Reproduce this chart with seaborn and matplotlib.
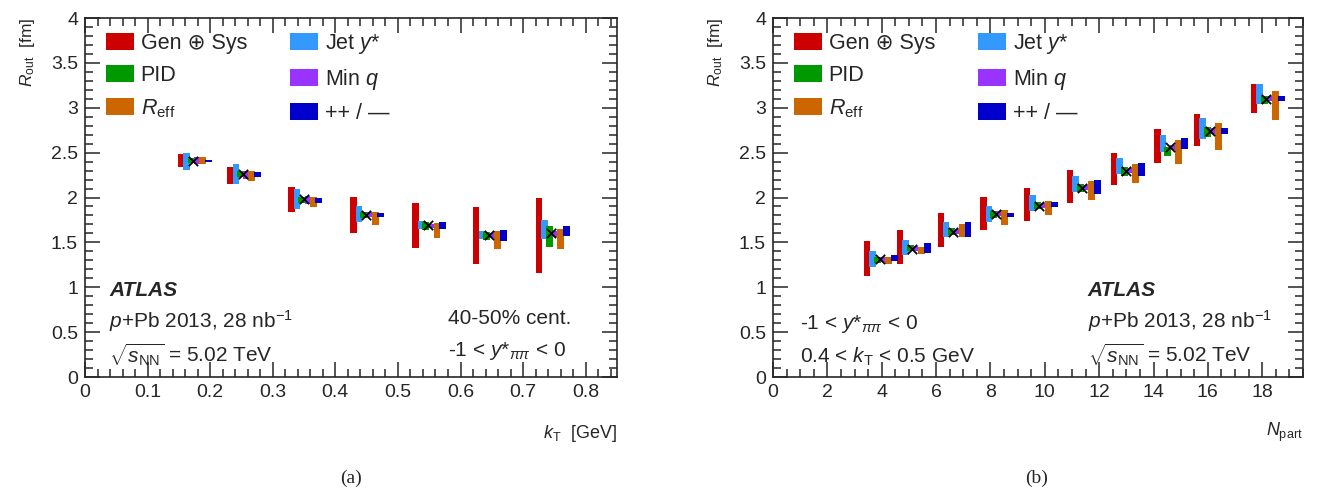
import matplotlib
matplotlib.use("Agg")
import matplotlib.pyplot as plt
import seaborn as sns
from matplotlib.patches import Patch
from matplotlib.ticker import MultipleLocator, FuncFormatter

# ---- panel (a): R_out vs kT ----
kt = [0.173, 0.252, 0.350, 0.449, 0.548, 0.645, 0.745]
rout_kt = [2.41, 2.26, 1.98, 1.81, 1.69, 1.58, 1.60]
# (low, high) edges of each systematic box
a_gen = [(2.34, 2.48), (2.15, 2.34), (1.84, 2.12), (1.61, 2.00), (1.44, 1.94), (1.26, 1.89), (1.16, 2.00)]
a_jet = [(2.31, 2.50), (2.15, 2.37), (1.87, 2.10), (1.73, 1.91), (1.65, 1.74), (1.54, 1.63), (1.54, 1.75)]
a_pid = [(2.38, 2.44), (2.23, 2.29), (1.94, 2.01), (1.77, 1.84), (1.64, 1.73), (1.53, 1.62), (1.45, 1.68)]
a_minq = [(2.37, 2.45), (2.21, 2.30), (1.93, 2.02), (1.78, 1.84), (1.66, 1.71), (1.55, 1.60), (1.56, 1.63)]
a_reff = [(2.37, 2.45), (2.18, 2.30), (1.89, 2.01), (1.69, 1.84), (1.55, 1.72), (1.43, 1.63), (1.43, 1.65)]
a_pm = [(2.39, 2.42), (2.23, 2.28), (1.94, 2.00), (1.78, 1.83), (1.65, 1.73), (1.52, 1.64), (1.57, 1.68)]

# ---- panel (b): R_out vs Npart ----
npart = [3.92, 5.13, 6.63, 8.20, 9.80, 11.38, 13.0, 14.6, 16.06, 18.15]
rout_np = [1.31, 1.43, 1.62, 1.82, 1.91, 2.11, 2.30, 2.56, 2.74, 3.10]
b_gen = [(1.13, 1.52), (1.26, 1.64), (1.45, 1.83), (1.64, 2.01), (1.74, 2.11), (1.94, 2.31), (2.14, 2.50), (2.38, 2.76), (2.57, 2.93), (2.94, 3.27)]
b_jet = [(1.23, 1.40), (1.36, 1.53), (1.56, 1.73), (1.73, 1.91), (1.85, 2.03), (2.06, 2.24), (2.26, 2.44), (2.51, 2.70), (2.65, 2.89), (3.04, 3.26)]
b_pid = [(1.27, 1.34), (1.40, 1.47), (1.58, 1.66), (1.77, 1.85), (1.87, 1.95), (2.06, 2.15), (2.24, 2.34), (2.46, 2.56), (2.67, 2.78), (3.04, 3.13)]
b_minq = [(1.28, 1.34), (1.40, 1.46), (1.59, 1.65), (1.79, 1.85), (1.88, 1.94), (2.08, 2.14), (2.27, 2.33), (2.53, 2.59), (2.71, 2.77), (3.07, 3.13)]
b_reff = [(1.26, 1.34), (1.37, 1.45), (1.56, 1.70), (1.69, 1.86), (1.80, 1.96), (1.97, 2.18), (2.16, 2.37), (2.37, 2.64), (2.53, 2.83), (2.86, 3.19)]
b_pm = [(1.29, 1.36), (1.38, 1.49), (1.56, 1.73), (1.78, 1.83), (1.89, 1.95), (2.04, 2.19), (2.24, 2.38), (2.54, 2.66), (2.71, 2.77), (3.07, 3.13)]

labels = ["Gen \u2295 Sys", "Jet $y$*", "PID", "Min $q$", "$R_{\\rm eff}$", "++ / \u2014"]
colors = ["#cc0000", "#3399ff", "#009900", "#9933ff", "#cc6600", "#0000cc"]
# horizontal offset / width of each box, as a fraction of the x range
offsets = [-0.0235, -0.013, -0.004, 0.006, 0.017, 0.028]
widths = [0.012, 0.012, 0.013, 0.010, 0.013, 0.013]

sns.set_style("ticks")
plt.rcParams["font.family"] = ["Liberation Sans", "DejaVu Sans"]
plt.rcParams["mathtext.fontset"] = "custom"
plt.rcParams["mathtext.rm"] = "Liberation Sans"
plt.rcParams["mathtext.it"] = "Liberation Sans:italic"
plt.rcParams["mathtext.bf"] = "Liberation Sans:bold"

fig = plt.figure(figsize=(13.17, 4.98), dpi=100)
ax1 = fig.add_axes([85 / 1317, 1 - 377 / 498, 532 / 1317, 359 / 498])
ax2 = fig.add_axes([773 / 1317, 1 - 377 / 498, 530 / 1317, 359 / 498])


def draw_panel(ax, x, y, comps, xmax):
    for (comp, col, off, w) in zip(comps, colors, offsets, widths):
        lo = [c[0] for c in comp]
        hi = [c[1] for c in comp]
        ax.bar([xi + off * xmax for xi in x], [h - l for h, l in zip(hi, lo)], bottom=lo,
               width=w * xmax, color=col, edgecolor="none", zorder=2)
    sns.scatterplot(x=x, y=y, ax=ax, marker="x", color="black", s=45, linewidth=1.3, zorder=5)
    ax.set_xlim(0, xmax)
    ax.set_ylim(0, 4)
    ax.yaxis.set_major_locator(MultipleLocator(0.5))
    ax.yaxis.set_minor_locator(MultipleLocator(0.1))
    ax.yaxis.set_major_formatter(FuncFormatter(lambda v, p: f"{v:g}"))
    ax.xaxis.set_major_formatter(FuncFormatter(lambda v, p: f"{v:g}"))
    ax.tick_params(which="both", direction="in", top=True, right=True, labelsize=14, width=1.1)
    ax.tick_params(which="major", length=11, pad=5)
    ax.tick_params(which="minor", length=5.5)
    for s in ax.spines.values():
        s.set_linewidth(1.2)
    ax.set_ylabel("$R_{\\rm out}$  [fm]", loc="top", fontsize=12.5, labelpad=10)
    handles = [Patch(facecolor=colors[i], edgecolor="none") for i in [0, 2, 4, 1, 3, 5]]
    labs = [labels[i] for i in [0, 2, 4, 1, 3, 5]]
    ax.legend(handles, labs, loc="upper left", ncol=2, frameon=False, fontsize=15.5,
              handlelength=1.3, handleheight=0.85, handletextpad=0.3,
              columnspacing=2.0, labelspacing=0.5, bbox_to_anchor=(0.04, 0.96),
              borderaxespad=0, borderpad=0)


draw_panel(ax1, kt, rout_kt, [a_gen, a_jet, a_pid, a_minq, a_reff, a_pm], 0.85)
ax1.xaxis.set_major_locator(MultipleLocator(0.1))
ax1.xaxis.set_minor_locator(MultipleLocator(0.02))
ax1.set_xlabel("$k_{\\rm T}$  [GeV]", loc="right", fontsize=13, labelpad=16)

draw_panel(ax2, npart, rout_np, [b_gen, b_jet, b_pid, b_minq, b_reff, b_pm], 19.5)
ax2.xaxis.set_major_locator(MultipleLocator(2))
ax2.xaxis.set_minor_locator(MultipleLocator(0.5))
ax2.set_xlabel("$N_{\\rm part}$", loc="right", fontsize=13, labelpad=14)

fs = 15
kw = dict(fontsize=fs, va="center")
ax1.text(0.045, 0.24, "ATLAS", transform=ax1.transAxes, fontweight="bold", style="italic", **kw)
ax1.text(0.045, 0.155, "$p$+Pb 2013, 28 nb$^{-1}$", transform=ax1.transAxes, **kw)
ax1.text(0.045, 0.064, "$\\sqrt{s_{\\rm NN}}$ = 5.02 TeV", transform=ax1.transAxes, **kw)
ax1.text(0.682, 0.162, "40-50% cent.", transform=ax1.transAxes, **kw)
ax1.text(0.682, 0.072, "-1 < $y$*$_{\\pi\\pi}$ < 0", transform=ax1.transAxes, **kw)

ax2.text(0.594, 0.24, "ATLAS", transform=ax2.transAxes, fontweight="bold", style="italic", **kw)
ax2.text(0.594, 0.155, "$p$+Pb 2013, 28 nb$^{-1}$", transform=ax2.transAxes, **kw)
ax2.text(0.594, 0.064, "$\\sqrt{s_{\\rm NN}}$ = 5.02 TeV", transform=ax2.transAxes, **kw)
ax2.text(0.051, 0.148, "-1 < $y$*$_{\\pi\\pi}$ < 0", transform=ax2.transAxes, **kw)
ax2.text(0.051, 0.055, "0.4 < $k_{\\rm T}$ < 0.5 GeV", transform=ax2.transAxes, **kw)

fig.text(351 / 1317, 1 - 478 / 498, "(a)", ha="center", va="center", fontsize=14, family="Liberation Serif")
fig.text(1037 / 1317, 1 - 478 / 498, "(b)", ha="center", va="center", fontsize=14, family="Liberation Serif")

fig.savefig("out.png", dpi=100)
